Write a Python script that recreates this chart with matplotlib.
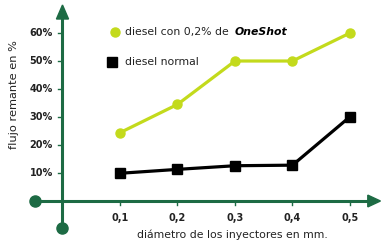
import matplotlib
matplotlib.use("Agg")
import matplotlib.pyplot as plt
from matplotlib.patches import Polygon

diametros = [0.1, 0.2, 0.3, 0.4, 0.5]
oneshot = [24.4, 34.5, 50.0, 50.0, 60.0]
normal = [9.9, 11.3, 12.6, 12.8, 30.1]
xtick_labels = ["0,1", "0,2", "0,3", "0,4", "0,5"]
ytick_vals = [10, 20, 30, 40, 50, 60]
ytick_labels = ["10%", "20%", "30%", "40%", "50%", "60%"]

GREEN_AX = "#1d6b44"
LIME = "#c3da1c"

fig = plt.figure(figsize=(3.82, 2.42), dpi=100)
ax = fig.add_axes([0, 0, 1, 1])
ax.set_xlim(-0.1087, 0.5557)
ax.set_ylim(-14.64, 71.79)
ax.axis("off")

# axes lines
ax.plot([-0.047, 0.535], [0, 0], color=GREEN_AX, lw=2.2, zorder=2, solid_capstyle="butt")
ax.plot([0, 0], [-9.6, 66], color=GREEN_AX, lw=2.2, zorder=2, solid_capstyle="butt")
# arrow heads
ax.add_patch(Polygon([[0.531, 2.1], [0.531, -2.1], [0.553, 0]], closed=True,
                     color=GREEN_AX, zorder=3))
ax.add_patch(Polygon([[-0.0105, 65], [0.0105, 65], [0, 70]], closed=True,
                     color=GREEN_AX, zorder=3))
# end dots
ax.plot([-0.047], [0], "o", color=GREEN_AX, ms=8, zorder=3)
ax.plot([0], [-9.6], "o", color=GREEN_AX, ms=8, zorder=3)

# ticks
for v, lab in zip(ytick_vals, ytick_labels):
    ax.plot([-0.007, 0], [v, v], color=GREEN_AX, lw=1, zorder=2)
    ax.text(-0.017, v, lab, ha="right", va="center", fontsize=7,
            fontweight="bold", color="#222222")
for x, lab in zip(diametros, xtick_labels):
    ax.plot([x, x], [0, -1.5], color=GREEN_AX, lw=1, zorder=2)
    ax.text(x, -6.0, lab, ha="center", va="center", fontsize=7,
            fontweight="bold", color="#222222")

ax.text(0.295, -12.0, "diámetro de los inyectores en mm.", ha="center",
        va="center", fontsize=7.8, color="#222222")
ax.text(-0.085, 37.9, "flujo remante en %", ha="center", va="center",
        rotation=90, fontsize=8.2, color="#222222")

# series
ax.plot(diametros, oneshot, "-o", color=LIME, lw=2.3, ms=6.5, zorder=4)
ax.plot(diametros, normal, "-s", color="black", lw=2.3, ms=7, zorder=4)

# legend
ax.plot([0.091], [60.3], "o", color=LIME, ms=6.5)
t1 = ax.text(0.108, 60.3, "diesel con 0,2% de ", ha="left", va="center",
             fontsize=7.8, color="#222222")
fig.canvas.draw()
bb = t1.get_window_extent(renderer=fig.canvas.get_renderer())
x_end = ax.transData.inverted().transform((bb.x1, bb.y0))[0]
ax.text(x_end + 0.004, 60.3, "OneShot", ha="left", va="center", fontsize=7.8,
        fontweight="bold", style="italic", color="black")
ax.plot([0.086], [49.6], "s", color="black", ms=7)
ax.text(0.108, 49.6, "diesel normal", ha="left", va="center",
        fontsize=7.8, color="#222222")

fig.savefig("out.png", dpi=100)
